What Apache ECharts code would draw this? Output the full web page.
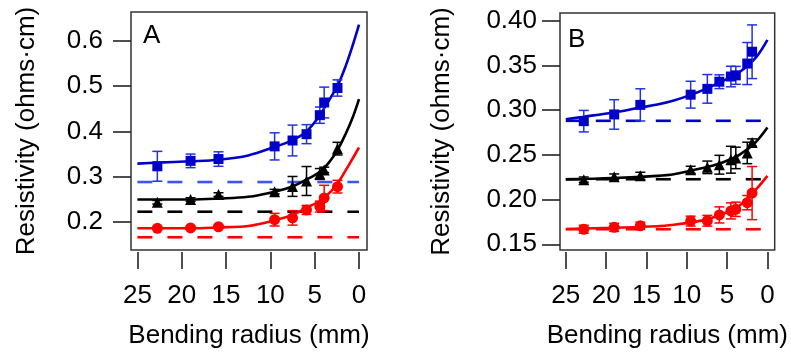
<!DOCTYPE html>
<html><head><meta charset="utf-8">
<script src="https://cdn.jsdelivr.net/npm/echarts@6/dist/echarts.min.js"></script>
<style>html,body{margin:0;padding:0;background:#fff}#c{width:791px;height:354px}</style>
</head><body><div id="c"></div>
<script>
// ---------- tick labels ----------
const xTicks = [0, 5, 10, 15, 20, 25];
const yTicksA = [0.2, 0.3, 0.4, 0.5, 0.6];
const yTicksB = [0.15, 0.20, 0.25, 0.30, 0.35, 0.40];
const dashSpan = [25, 0];

// ---------- panel A ----------
const radiusA = [22.75, 19.0, 15.85, 9.52, 7.5, 5.92, 4.42, 3.93, 2.43];
const blueA    = [0.323, 0.335, 0.339, 0.367, 0.380, 0.394, 0.436, 0.464, 0.496];
const blueAErr = [0.033, 0.015, 0.016, 0.030, 0.034, 0.021, 0.018, 0.034, 0.018];
const blackA    = [0.2435, 0.2495, 0.2605, 0.267, 0.2785, 0.2905, 0.306, 0.315, 0.362];
const blackAErr = [0.004, 0.004, 0.004, 0.005, 0.022, 0.032, 0.012, 0.006, 0.014];
const redA    = [0.186, 0.1868, 0.1894, 0.205, 0.209, 0.2265, 0.234, 0.253, 0.278];
const redAErr = [0.003, 0.003, 0.003, 0.014, 0.016, 0.010, 0.012, 0.028, 0.014];
const baseA = { blue: 0.2882, black: 0.2226, red: 0.1662 };

const blueFitAx = [25, 22.7, 19, 15.85, 12.5, 9.5, 7.5, 6, 4.7, 3.4, 2.4, 1.5, 0.75, 0];
const blueFitAy = [0.329, 0.331, 0.334, 0.3374, 0.347, 0.366, 0.381, 0.399, 0.428, 0.4685, 0.502, 0.545, 0.588, 0.636];
const blackFitAx = [25, 19, 15.85, 12.5, 9.5, 7.5, 6, 4.4, 3.4, 2.43, 1.5, 0.75, 0];
const blackFitAy = [0.2495, 0.2495, 0.2516, 0.2555, 0.267, 0.2785, 0.293, 0.311, 0.331, 0.3586, 0.395, 0.429, 0.4715];
const redFitAx = [25, 19, 15.85, 12.5, 9.5, 7.5, 6, 4.3, 3.4, 2.43, 1.12, 0];
const redFitAy = [0.186, 0.186, 0.188, 0.191, 0.2036, 0.2156, 0.2304, 0.248, 0.263, 0.2846, 0.3268, 0.3645];

// ---------- panel B ----------
const radiusB = [22.77, 19.0, 15.76, 9.52, 7.45, 5.96, 4.53, 3.92, 2.5, 1.9];
const blueB    = [0.2876, 0.2951, 0.3058, 0.3172, 0.3237, 0.3317, 0.3375, 0.3388, 0.352, 0.3652];
const blueBErr = [0.012, 0.0165, 0.018, 0.015, 0.016, 0.0077, 0.0115, 0.010, 0.0235, 0.030];
const blackB    = [0.2222, 0.2256, 0.2265, 0.2332, 0.236, 0.2389, 0.2445, 0.2465, 0.2521, 0.2638];
const blackBErr = [0.003, 0.003, 0.004, 0.004, 0.007, 0.0105, 0.015, 0.012, 0.012, 0.004];
const redB    = [0.1668, 0.1689, 0.1706, 0.1759, 0.1763, 0.1828, 0.1873, 0.1891, 0.1965, 0.2072];
const redBErr = [0.0045, 0.0045, 0.004, 0.0055, 0.006, 0.009, 0.009, 0.008, 0.008, 0.0297];
const baseB = { blue: 0.288, black: 0.2227, red: 0.1668 };

const blueFitBx = [25, 22.98, 18.92, 15.76, 13.65, 11.6, 9.5, 7.6, 5.55, 3.53, 1.5, 0];
const blueFitBy = [0.2898, 0.2923, 0.2976, 0.3029, 0.3062, 0.3108, 0.317, 0.324, 0.3325, 0.342, 0.358, 0.3785];
const blackFitBx = [25, 19.1, 13.65, 11.6, 9.4, 7.6, 5.55, 3.53, 1.5, 0];
const blackFitBy = [0.2225, 0.224, 0.2265, 0.2283, 0.2325, 0.2361, 0.2415, 0.2496, 0.2638, 0.2805];
const redFitBx = [25, 19.1, 13.65, 11.6, 9.6, 7.6, 5.55, 3.53, 1.5, 0];
const redFitBy = [0.1671, 0.1685, 0.1702, 0.1718, 0.1742, 0.1777, 0.1838, 0.1927, 0.2105, 0.2265];

// ---------- styling ----------
const FONT = '"Liberation Sans", Arial, Helvetica, sans-serif';
const FS = 26;
const BLUE = '#0000c8', BLUE_ERR = '#2233dd', BLUE_DASH_A = '#3b55f2';
const RED = '#ff0000', BLACK = '#000000';

function pts(xs, ys) { return xs.map((x, i) => [x, ys[i]]); }
function errs(xs, ys, es) { return xs.map((x, i) => [x, ys[i] - es[i], ys[i] + es[i]]); }

function errRender(color) {
  return function (params, api) {
    const x = api.value(0), lo = api.value(1), hi = api.value(2);
    const p1 = api.coord([x, lo]), p2 = api.coord([x, hi]);
    const w = 5;
    const style = { stroke: color, lineWidth: 1.5, fill: null };
    return { type: 'group', children: [
      { type: 'line', shape: { x1: p1[0], y1: p1[1], x2: p2[0], y2: p2[1] }, style: style },
      { type: 'line', shape: { x1: p1[0] - w, y1: p1[1], x2: p1[0] + w, y2: p1[1] }, style: style },
      { type: 'line', shape: { x1: p2[0] - w, y1: p2[1], x2: p2[0] + w, y2: p2[1] }, style: style }
    ]};
  };
}

function xAxisDef(gi) {
  return {
    gridIndex: gi, type: 'value', inverse: true, min: -0.9, max: 25.72,
    offset: 2,
    name: 'Bending radius (mm)', nameLocation: 'middle', nameGap: 71,
    nameTextStyle: { fontFamily: FONT, fontSize: FS, color: '#000' },
    axisLine: { show: false, onZero: false },
    splitLine: { show: false },
    axisTick: { show: true, inside: false, length: 17, customValues: xTicks,
      lineStyle: { color: '#222', width: 1.6 } },
    axisLabel: { customValues: xTicks, margin: 31, fontFamily: FONT, fontSize: FS, color: '#000',
      formatter: v => String(Math.round(v)) }
  };
}
function yAxisDef(gi, mn, mx, ticks, dec, gap, lm) {
  return {
    gridIndex: gi, type: 'value', min: mn, max: mx, position: 'left',
    name: 'Resistivity (ohms\u00b7cm)', nameLocation: 'middle', nameGap: gap,
    nameTextStyle: { fontFamily: FONT, fontSize: FS, color: '#000' },
    axisLine: { show: false, onZero: false },
    splitLine: { show: false },
    axisTick: { show: true, inside: false, length: 18, customValues: ticks,
      lineStyle: { color: '#222', width: 1.6 } },
    axisLabel: { customValues: ticks, margin: lm, fontFamily: FONT, fontSize: FS, color: '#000',
      formatter: v => v.toFixed(dec) }
  };
}

function panelSeries(gi, radius, sets) {
  const out = [];
  sets.forEach(s => {
    out.push({ type: 'line', xAxisIndex: gi, yAxisIndex: gi, data: pts(dashSpan, [s.base, s.base]),
      symbol: 'none', z: 1, silent: true,
      lineStyle: { color: s.dash, width: 2.6, type: [15, 15] } });
    out.push({ type: 'line', xAxisIndex: gi, yAxisIndex: gi, data: pts(s.fx, s.fy),
      symbol: 'none', smooth: 0.35, z: 2, silent: true,
      lineStyle: { color: s.color, width: 2.6 } });
    out.push({ type: 'custom', xAxisIndex: gi, yAxisIndex: gi, data: errs(radius, s.y, s.e),
      renderItem: errRender(s.err), encode: { x: 0, y: [1, 2] }, z: 3, silent: true });
    out.push({ type: 'scatter', xAxisIndex: gi, yAxisIndex: gi, data: pts(radius, s.y),
      symbol: s.sym, symbolSize: s.size, z: 4, silent: true,
      itemStyle: { color: s.color, opacity: 1 } });
  });
  return out;
}

const seriesA = panelSeries(0, radiusA, [
  { y: blueA, e: blueAErr, fx: blueFitAx, fy: blueFitAy, base: baseA.blue, color: BLUE, err: BLUE_ERR, dash: BLUE_DASH_A, sym: 'rect', size: 10 },
  { y: blackA, e: blackAErr, fx: blackFitAx, fy: blackFitAy, base: baseA.black, color: BLACK, err: BLACK, dash: BLACK, sym: 'triangle', size: 11 },
  { y: redA, e: redAErr, fx: redFitAx, fy: redFitAy, base: baseA.red, color: RED, err: RED, dash: RED, sym: 'circle', size: 11 }
]);
const seriesB = panelSeries(1, radiusB, [
  { y: blueB, e: blueBErr, fx: blueFitBx, fy: blueFitBy, base: baseB.blue, color: BLUE, err: BLUE_ERR, dash: BLUE, sym: 'rect', size: 10 },
  { y: blackB, e: blackBErr, fx: blackFitBx, fy: blackFitBy, base: baseB.black, color: BLACK, err: BLACK, dash: BLACK, sym: 'triangle', size: 11 },
  { y: redB, e: redBErr, fx: redFitBx, fy: redFitBy, base: baseB.red, color: RED, err: RED, dash: RED, sym: 'circle', size: 11 }
]);

const chart = echarts.init(document.getElementById('c'), null, { renderer: 'canvas' });
chart.setOption({
  animation: false,
  backgroundColor: '#ffffff',
  grid: [
    { left: 131, top: 12, width: 236, height: 249, show: true, borderColor: '#333', borderWidth: 1.5, backgroundColor: 'transparent' },
    { left: 560, top: 13, width: 220, height: 248, show: true, borderColor: '#333', borderWidth: 1.5, backgroundColor: 'transparent' }
  ],
  xAxis: [xAxisDef(0), xAxisDef(1)],
  yAxis: [
    yAxisDef(0, 0.138, 0.664, yTicksA, 1, 91, 28),
    yAxisDef(1, 0.1436, 0.4085, yTicksB, 2, 105, 23)
  ],
  graphic: [
    { type: 'text', left: 143, top: 23, style: { text: 'A', font: FS + 'px ' + FONT, fill: '#000' } },
    { type: 'text', left: 568, top: 27, style: { text: 'B', font: FS + 'px ' + FONT, fill: '#000' } }
  ],
  series: seriesA.concat(seriesB)
});
</script></body></html>
